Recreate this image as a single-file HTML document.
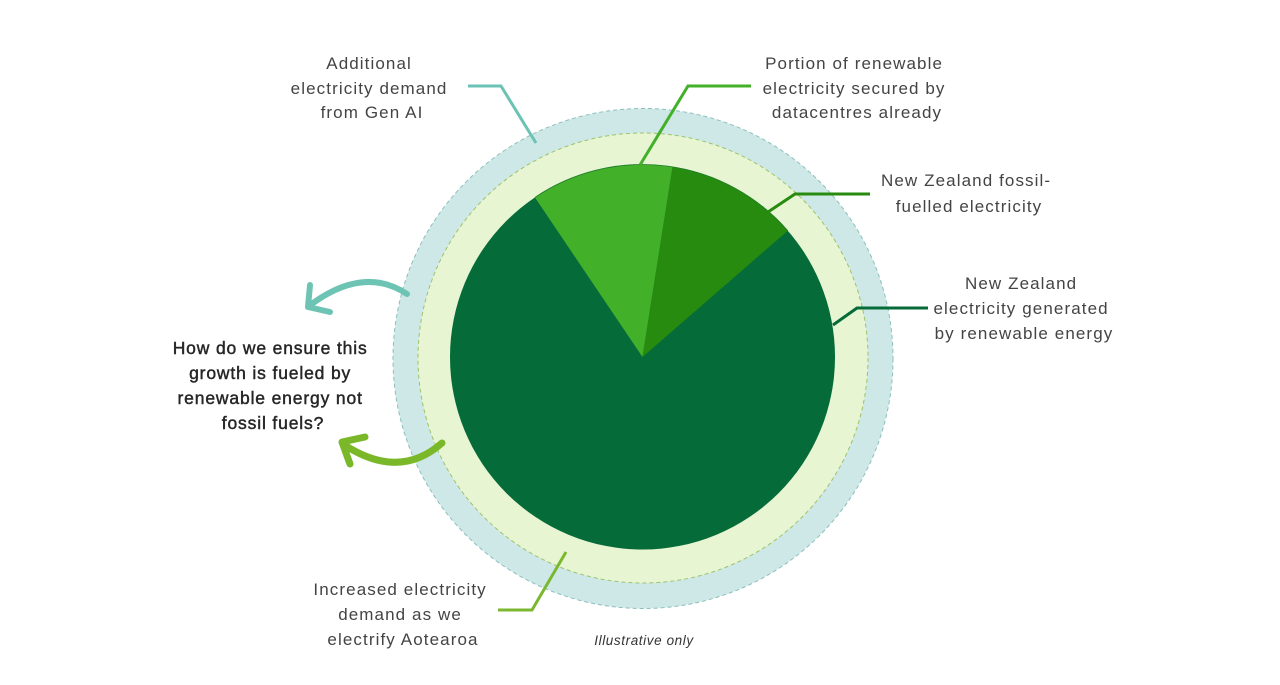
<!DOCTYPE html>
<html>
<head>
<meta charset="utf-8">
<style>
  html, body { margin: 0; padding: 0; background: #ffffff; }
  body { width: 1280px; height: 685px; overflow: hidden; }
  svg { display: block; }
  .lbl { font-family: "Liberation Sans", sans-serif; font-size: 17px; fill: #444444; letter-spacing: 1.1px; }
  .q { font-family: "Liberation Sans", sans-serif; font-size: 17.5px; fill: #262626; letter-spacing: 0.85px; stroke: #262626; stroke-width: 0.45px; }
  .note { font-family: "Liberation Sans", sans-serif; font-size: 13.5px; font-style: italic; fill: #333; letter-spacing: 0.6px; }
</style>
</head>
<body>
<svg width="1280" height="685" viewBox="0 0 1280 685" xmlns="http://www.w3.org/2000/svg">
  <!-- outer ring -->
  <circle cx="643" cy="358.5" r="250" fill="#cde8e7" stroke="#8dbfbb" stroke-width="1" stroke-dasharray="4 3"/>
  <!-- middle ring -->
  <circle cx="643" cy="358" r="225" fill="#e7f5d2" stroke="#9fc26a" stroke-width="1" stroke-dasharray="4 3"/>
  <!-- pie -->
  <circle cx="642.5" cy="357" r="192.5" fill="#056b39"/>
  <path d="M642.5,357 L534.9,197.4 A192.5,192.5 0 0 1 672.6,166.9 Z" fill="#43b02a"/>
  <path d="M642.5,357 L672.6,166.9 A192.5,192.5 0 0 1 787.8,230.7 Z" fill="#268b0e"/>
  <path d="M534.9,197.4 A192.5,192.5 0 0 1 787.8,230.7" fill="none" stroke="#1f7a2a" stroke-width="0.8"/>

  <!-- connectors -->
  <polyline points="468,86 501,86 536,143" fill="none" stroke="#6cc2b4" stroke-width="3"/>
  <polyline points="640,165 688,86 751,86" fill="none" stroke="#43b02a" stroke-width="3"/>
  <polyline points="768,212 795,194 870,194" fill="none" stroke="#268b0e" stroke-width="3"/>
  <polyline points="833,325 857,308 928,308" fill="none" stroke="#056b39" stroke-width="3"/>
  <polyline points="566,552 532,610 498,610" fill="none" stroke="#7cb82f" stroke-width="3"/>

  <!-- teal arrow -->
  <path d="M407,294 Q365,266 313,303" fill="none" stroke="#6ec4b4" stroke-width="6" stroke-linecap="round"/>
  <path d="M310,285 L308,307 L330,312" fill="none" stroke="#6ec4b4" stroke-width="6" stroke-linecap="round" stroke-linejoin="round"/>

  <!-- green arrow -->
  <path d="M442,443 Q400,480 346,446" fill="none" stroke="#7ab829" stroke-width="7" stroke-linecap="round"/>
  <path d="M365,437 L342,442 L350,464" fill="none" stroke="#7ab829" stroke-width="7" stroke-linecap="round" stroke-linejoin="round"/>

  <!-- labels -->
  <text class="lbl" text-anchor="middle">
    <tspan x="372" y="69">Additional</tspan>
    <tspan x="372" y="94">electricity demand</tspan>
    <tspan x="372" y="118">from Gen AI</tspan>
  </text>
  <text class="lbl" text-anchor="middle">
    <tspan x="857" y="69">Portion of renewable</tspan>
    <tspan x="857" y="94">electricity secured by</tspan>
    <tspan x="857" y="118">datacentres already</tspan>
  </text>
  <text class="lbl" text-anchor="middle">
    <tspan x="969" y="186">New Zealand fossil-</tspan>
    <tspan x="969" y="212">fuelled electricity</tspan>
  </text>
  <text class="lbl" text-anchor="middle">
    <tspan x="1024" y="289">New Zealand</tspan>
    <tspan x="1024" y="314">electricity generated</tspan>
    <tspan x="1024" y="339">by renewable energy</tspan>
  </text>
  <text class="lbl" text-anchor="middle">
    <tspan x="403" y="595">Increased electricity</tspan>
    <tspan x="403" y="620">demand as we</tspan>
    <tspan x="403" y="645">electrify Aotearoa</tspan>
  </text>

  <text class="q" text-anchor="middle">
    <tspan x="273" y="354">How do we ensure this</tspan>
    <tspan x="273" y="379">growth is fueled by</tspan>
    <tspan x="273" y="404">renewable energy not</tspan>
    <tspan x="273" y="429">fossil fuels?</tspan>
  </text>

  <text class="note" x="644" y="645" text-anchor="middle">Illustrative only</text>
</svg>
</body>
</html>
